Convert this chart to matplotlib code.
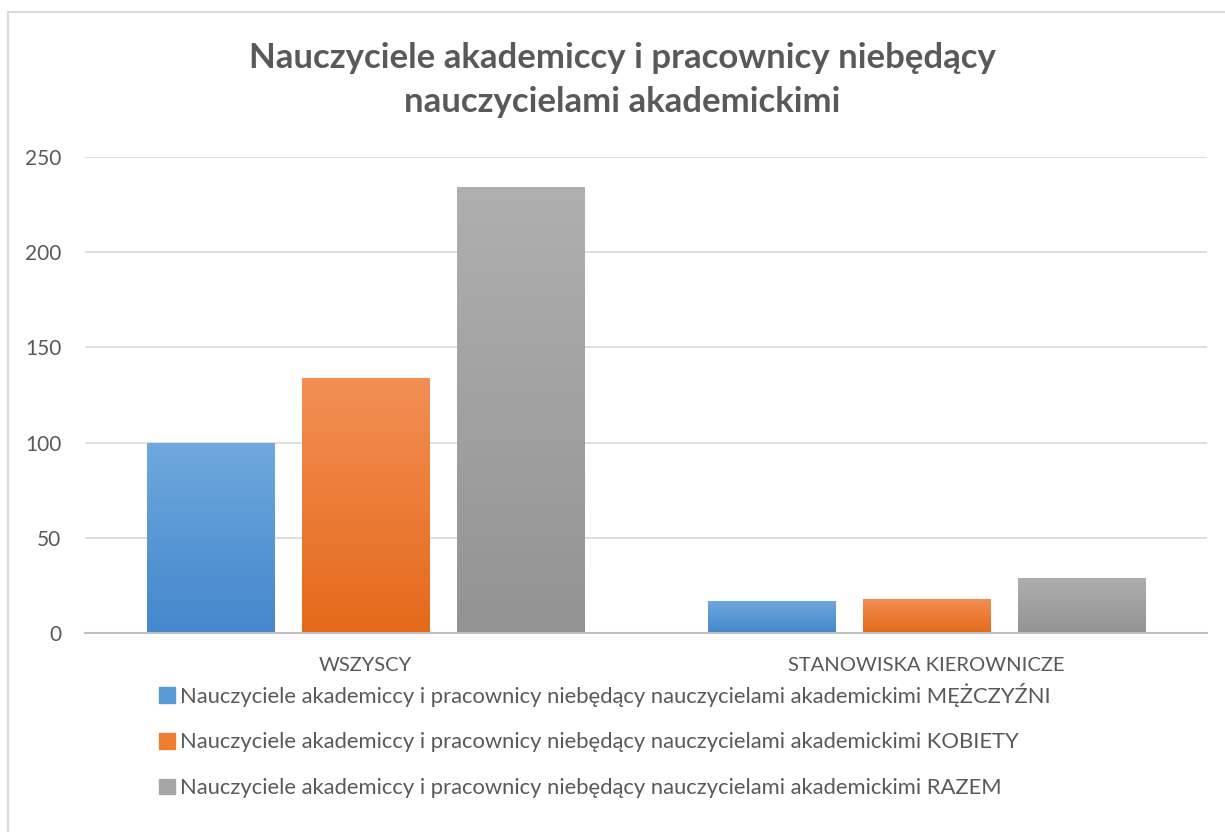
import matplotlib.pyplot as plt
import numpy as np
from matplotlib.lines import Line2D
from matplotlib.colors import LinearSegmentedColormap

categories = ["WSZYSCY", "STANOWISKA KIEROWNICZE"]
men = [100, 17]
women = [134, 18]
total = [234, 29]
labels = [
    "Nauczyciele akademiccy i pracownicy niebędący nauczycielami akademickimi MĘŻCZYŹNI",
    "Nauczyciele akademiccy i pracownicy niebędący nauczycielami akademickimi KOBIETY",
    "Nauczyciele akademiccy i pracownicy niebędący nauczycielami akademickimi RAZEM",
]
title = "Nauczyciele akademiccy i pracownicy niebędący\nnauczycielami akademickimi"

# top colour, bottom colour, legend colour
colors = [
    ("#6FA8DE", "#4387CC", "#5B9BD5"),
    ("#F38F55", "#E5691A", "#ED7D31"),
    ("#AFAFAF", "#939393", "#A5A5A5"),
]

plt.rcParams['font.family'] = ['Lato', 'DejaVu Sans']
text_color = "#595959"

fig = plt.figure(figsize=(12.25, 8.32), dpi=100)
ax = fig.add_axes([85 / 1225, 1 - 633 / 832, (1207 - 85) / 1225, (633 - 157) / 832])

x = np.arange(len(categories))
width = 0.2264
offsets = [-0.2763, 0, 0.2763]
series = [men, women, total]

handles = []
for vals, off, (ctop, cbot, cleg), lab in zip(series, offsets, colors, labels):
    bars = ax.bar(x + off, vals, width, color=cleg, zorder=2, label=lab)
    cmap = LinearSegmentedColormap.from_list("g", [cbot, ctop])
    for b in bars:
        bx, by = b.get_x(), b.get_y()
        bw, bh = b.get_width(), b.get_height()
        grad = np.linspace(0, 1, 256).reshape(-1, 1)
        im = ax.imshow(grad, cmap=cmap, origin="lower", aspect="auto",
                       extent=[bx, bx + bw, by, by + bh], zorder=2.5)
        im.set_clip_path(b)
    handles.append(plt.Rectangle((0, 0), 1, 1, color=cleg))

ax.set_xlim(-0.5, 1.5)
ax.set_ylim(0, 250)
ax.set_yticks([0, 50, 100, 150, 200, 250])
ax.yaxis.grid(True, color="#D9D9D9", linewidth=1.2, zorder=0)
ax.set_axisbelow(True)
for s in ["top", "right", "left"]:
    ax.spines[s].set_visible(False)
ax.spines["bottom"].set_color("#BFBFBF")
ax.spines["bottom"].set_linewidth(1.5)
ax.set_xticks(x)
ax.set_xticklabels(categories)
ax.tick_params(axis="both", length=0, labelcolor=text_color)
ax.tick_params(axis="x", pad=17, labelsize=14.5)
ax.tick_params(axis="y", pad=17, labelsize=15)

fig.text(622 / 1225, 1 - 80 / 832, title, ha="center", va="center",
         fontsize=25, fontweight="bold", color=text_color, linespacing=1.5)

leg = fig.legend(handles, labels, loc="upper left",
                 bbox_to_anchor=(150 / 1225, 1 - 674 / 832),
                 frameon=False, fontsize=15.8, labelcolor=text_color,
                 handlelength=0.72, handleheight=0.72, handletextpad=0.25,
                 labelspacing=1.17, borderaxespad=0)

fig.add_artist(Line2D([8 / 1225, 8 / 1225], [0, 1 - 12 / 832], color="#D9D9D9", linewidth=1.5))
fig.add_artist(Line2D([8 / 1225, 1], [1 - 12 / 832, 1 - 12 / 832], color="#D9D9D9", linewidth=1.5))

fig.savefig("out.png", dpi=100)
